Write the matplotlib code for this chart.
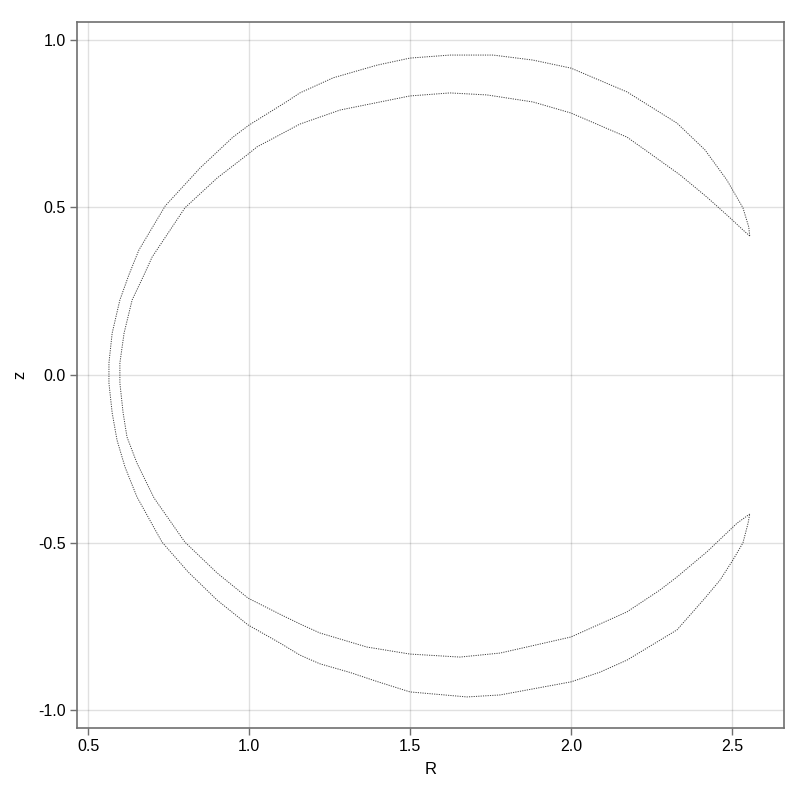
import matplotlib
matplotlib.use("Agg")
import matplotlib.pyplot as plt

# outer branch, from the upper tip over the top, round the left side, to the lower tip
outer_r = [2.555, 2.552, 2.534, 2.484, 2.416, 2.329, 2.174, 2.000, 1.882, 1.758,
           1.624, 1.500, 1.398, 1.261, 1.158, 1.117, 1.000, 0.950, 0.848, 0.740, 0.658,
           0.627, 0.599, 0.575, 0.565, 0.565, 0.575, 0.590, 0.615, 0.652, 0.730,
           0.811, 0.901, 0.997, 1.096, 1.158, 1.220, 1.314, 1.398, 1.500, 1.677, 1.780, 2.000,
           2.090, 2.174, 2.329, 2.416, 2.463, 2.503, 2.534, 2.550, 2.555]
outer_z = [0.415, 0.442, 0.499, 0.582, 0.672, 0.752, 0.845, 0.916, 0.940, 0.955,
           0.955, 0.946, 0.925, 0.887, 0.842, 0.816, 0.746, 0.710, 0.618, 0.505, 0.373,
           0.299, 0.224, 0.125, 0.036, -0.024, -0.113, -0.194, -0.275, -0.364, -0.499,
           -0.588, -0.672, -0.746, -0.800, -0.836, -0.862, -0.888, -0.915, -0.946, -0.961, -0.955, -0.916,
           -0.887, -0.851, -0.761, -0.666, -0.612, -0.552, -0.501, -0.442, -0.415]

# inner branch, same direction
inner_r = [2.555, 2.534, 2.494, 2.422, 2.339, 2.230, 2.174, 2.000, 1.882, 1.739,
           1.624, 1.500, 1.283, 1.158, 1.117, 1.025, 0.994, 0.901, 0.801, 0.699, 0.674,
           0.637, 0.612, 0.599, 0.599, 0.609, 0.621, 0.652, 0.705, 0.801, 0.901,
           0.997, 1.096, 1.158, 1.220, 1.366, 1.500, 1.655, 1.780, 2.000, 2.174, 2.276,
           2.329, 2.422, 2.516, 2.555]
inner_z = [0.415, 0.433, 0.469, 0.531, 0.597, 0.672, 0.710, 0.782, 0.815, 0.836,
           0.842, 0.833, 0.791, 0.749, 0.728, 0.681, 0.657, 0.588, 0.499, 0.352, 0.299,
           0.224, 0.125, 0.036, -0.024, -0.113, -0.185, -0.263, -0.367, -0.499, -0.591,
           -0.666, -0.714, -0.743, -0.770, -0.812, -0.833, -0.842, -0.830, -0.782, -0.707, -0.642,
           -0.603, -0.528, -0.442, -0.415]

x_ticks = [0.5, 1.0, 1.5, 2.0, 2.5]
y_ticks = [-1.0, -0.5, 0.0, 0.5, 1.0]

plt.rcParams["font.family"] = ["Liberation Sans", "DejaVu Sans"]
plt.rcParams["axes.unicode_minus"] = False

fig = plt.figure(figsize=(8, 8), dpi=100)
ax = fig.add_axes([77 / 800, 1 - 728 / 800, 707 / 800, 706 / 800])

for rr, zz in [(outer_r, outer_z), (inner_r, inner_z)]:
    ax.plot(rr, zz, color="black", lw=0.7, alpha=0.75, ls=(0, (1.2, 1.2)))

ax.set_xlim(0.4658, 2.6615)
ax.set_ylim(-1.0537, 1.0537)
ax.set_xticks(x_ticks)
ax.set_yticks(y_ticks)
ax.set_xticklabels([f"{t:.1f}" for t in x_ticks])
ax.set_yticklabels([f"{t:.1f}" for t in y_ticks])
ax.grid(True, color="black", alpha=0.12, lw=1)
ax.set_axisbelow(True)

for s in ax.spines.values():
    s.set_color("#6f6f6f")
    s.set_linewidth(1.2)
ax.tick_params(direction="out", length=5, width=1, color="#6f6f6f",
               labelsize=11.5, pad=3)

ax.set_xlabel("R", fontsize=12, labelpad=6)
ax.set_ylabel("z", fontsize=12, labelpad=8)

fig.savefig("out.png", dpi=100, facecolor="white")
